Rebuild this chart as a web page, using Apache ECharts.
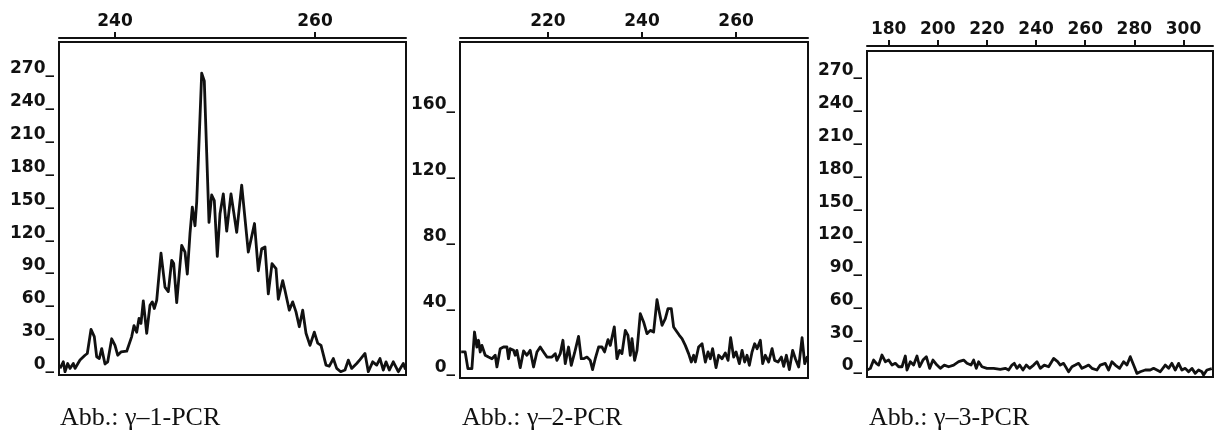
<!DOCTYPE html>
<html>
<head>
<meta charset="utf-8">
<script src="https://cdn.jsdelivr.net/npm/echarts@6/dist/echarts.min.js"></script>
<style>
  html, body { margin: 0; padding: 0; background: #fff; }
  #chart { width: 1229px; height: 437px; }
</style>
</head>
<body>
<div id="chart"></div>
<script>
// ---------------- D A T A ---------------- //
// [fragment size, signal]

const pcr1 = [
  [234.5, 4], [234.83, 10], [235.0, 1], [235.27, 8.5], [235.5, 4], [235.83, 8.5], [236.0, 4],
  [236.5, 11.6], [237.0, 16], [237.23, 17.6], [237.6, 39.5], [237.93, 33], [238.17, 14.6],
  [238.43, 13], [238.67, 22], [239.0, 8], [239.27, 10], [239.67, 31], [240.0, 25], [240.27, 16],
  [240.6, 19], [241.17, 19.7], [241.67, 33], [241.9, 43], [242.17, 37], [242.4, 49.5], [242.6, 45],
  [242.83, 65.5], [243.17, 36], [243.5, 61.6], [243.73, 64.6], [243.93, 58.6], [244.17, 66],
  [244.6, 109], [245.0, 78], [245.33, 74], [245.67, 102.5], [245.87, 99.5], [246.17, 64],
  [246.67, 116], [247.0, 110], [247.23, 90], [247.5, 127], [247.73, 151], [248.0, 134],
  [248.17, 155.6], [248.67, 273], [248.93, 266], [249.17, 200], [249.4, 137], [249.67, 162],
  [249.93, 157], [250.23, 106], [250.5, 145], [250.83, 163], [251.17, 129], [251.6, 163],
  [252.17, 128], [252.67, 171], [253.33, 110], [253.95, 136], [254.33, 93], [254.67, 113],
  [255.0, 114.6], [255.33, 72], [255.7, 99.5], [256.1, 95], [256.33, 67], [256.77, 84], [257.0, 75],
  [257.43, 57], [257.77, 64.6], [258.1, 55.5], [258.43, 42], [258.77, 57], [259.1, 36], [259.5, 25],
  [259.93, 37], [260.27, 27], [260.6, 25], [261.1, 7], [261.43, 6], [261.83, 13], [262.17, 4],
  [262.57, 1], [263.0, 2.5], [263.33, 11.6], [263.67, 4], [264.17, 8.5], [264.5, 12], [265.0, 17.6],
  [265.33, 1], [265.77, 10], [266.17, 7], [266.5, 13], [266.83, 2.5], [267.1, 10], [267.43, 2.5],
  [267.83, 10], [268.33, 1], [268.83, 8.5], [269.05, 3]
]

const pcr2 = [
  [201.55, 14.6], [202.4, 14.6], [202.98, 4.5], [203.83, 4.5], [204.38, 26.7], [204.89, 17.6],
  [205.23, 21.7], [205.6, 14.6], [205.96, 18.6], [206.66, 12.6], [207.36, 11.5], [208.09, 10.5],
  [208.79, 12.6], [209.15, 5.5], [209.85, 16.6], [210.55, 17.6], [211.28, 17.6], [211.62, 10.5],
  [211.98, 16.6], [212.68, 15.6], [213.04, 12.6], [213.4, 15.6], [214.11, 5.1], [214.81, 15.2],
  [215.53, 12.6], [216.23, 15.6], [216.94, 5.5], [217.66, 14.6], [218.36, 17.6], [219.06, 14.6],
  [219.79, 11.5], [220.85, 11.5], [221.55, 13.6], [221.91, 9.5], [222.62, 13.6], [223.19, 21.7],
  [223.68, 7.5], [224.38, 17.6], [224.96, 6.5], [225.66, 14.0], [226.51, 24.1], [227.09, 10.5],
  [227.57, 10.5], [228.3, 11.5], [229.0, 9.5], [229.49, 3.9], [230.06, 10.5], [230.77, 17.6],
  [231.49, 17.6], [232.04, 14.6], [232.77, 22.1], [233.26, 18.6], [234.11, 29.8], [234.68, 10.5],
  [235.23, 15.6], [235.74, 13.6], [236.45, 27.7], [237.02, 24.7], [237.51, 12.6], [237.87, 22.7],
  [238.43, 9.5], [238.94, 15.6], [239.64, 37.8], [240.34, 32.8], [241.06, 25.7], [241.77, 27.7],
  [242.47, 26.7], [243.19, 46.3], [243.68, 38.9], [244.26, 30.8], [244.96, 34.8], [245.53, 40.9],
  [246.23, 40.9], [246.72, 29.8], [247.45, 26.7], [247.94, 24.7], [248.51, 22.7], [249.21, 18.6],
  [249.91, 13.6], [250.49, 8.5], [250.98, 12.6], [251.34, 8.5], [252.04, 17.6], [252.77, 19.6],
  [253.47, 8.5], [254.04, 14.6], [254.53, 10.5], [255.02, 16.6], [255.74, 5.1], [256.3, 12.6],
  [257.02, 10.5], [257.72, 14.0], [258.3, 9.5], [258.85, 23.3], [259.49, 11.5], [260.0, 14.6],
  [260.7, 7.5], [261.28, 15.6], [261.83, 8.5], [262.34, 12.6], [262.83, 6.5], [263.4, 14.6],
  [263.96, 19.6], [264.47, 16.6], [265.17, 21.7], [265.66, 7.5], [266.23, 12.6], [266.94, 8.5],
  [267.66, 16.6], [268.21, 9.5], [268.94, 8.5], [269.64, 11.5], [270.13, 5.9], [270.7, 12.6],
  [271.34, 3.9], [272.04, 15.6], [272.62, 10.5], [273.32, 5.5], [274.04, 23.3], [274.6, 7.5],
  [275.2, 12]
]

const pcr3 = [
  [171.3, 3.7], [172.56, 5.2], [173.9, 12.8], [175.0, 9.8], [175.94, 8.2], [177.3, 17.4],
  [178.66, 11.3], [180.0, 12.8], [181.37, 8.2], [182.73, 9.8], [184.08, 6.7], [185.44, 6.7],
  [186.8, 16.5], [187.47, 3.7], [188.83, 11.3], [190.18, 8.2], [191.54, 16.5], [192.63, 6.7],
  [193.98, 12.8], [195.34, 15.9], [196.7, 5.2], [198.05, 12.8], [199.68, 8.2], [201.03, 5.2],
  [202.66, 8.2], [204.42, 6.7], [206.46, 8.2], [208.49, 11.3], [210.53, 12.8], [211.88, 9.8],
  [213.51, 8.2], [214.59, 12.8], [215.68, 5.2], [216.63, 11.3], [217.99, 6.7], [220.02, 5.2],
  [222.73, 5.2], [225.44, 4.3], [227.48, 5.2], [228.83, 3.7], [230.19, 8.2], [231.14, 9.8],
  [232.22, 5.2], [233.31, 8.2], [234.67, 3.7], [236.02, 8.2], [237.38, 5.2], [239.0, 8.2],
  [240.36, 11.3], [241.72, 5.2], [243.34, 8.2], [245.11, 6.7], [247.14, 14.3], [248.77, 11.3],
  [249.85, 8.2], [251.21, 9.8], [253.24, 2.1], [254.6, 6.7], [255.96, 8.2], [257.31, 9.8],
  [258.67, 5.2], [260.02, 6.7], [261.38, 8.2], [262.74, 5.2], [264.77, 3.7], [266.13, 8.2],
  [268.16, 9.8], [269.52, 3.7], [270.87, 11.3], [272.23, 8.2], [273.99, 5.2], [275.62, 11.3],
  [276.98, 8.2], [278.33, 15.9], [279.69, 8.2], [281.05, 0.6], [282.4, 2.1], [284.43, 3.7],
  [286.47, 3.7], [287.82, 5.2], [289.18, 3.7], [290.54, 2.1], [292.57, 8.2], [293.93, 5.2],
  [295.28, 9.8], [296.64, 3.7], [298.0, 9.8], [299.35, 3.7], [300.71, 5.2], [302.06, 2.1],
  [303.42, 5.2], [304.78, 0.6], [306.13, 3.7], [307.49, 2.1], [308.17, -0.9], [309.52, 3.7],
  [311.5, 5]
]

const xTicks1 = [240, 260]
const xTicks2 = [220, 240, 260]
const xTicks3 = [180, 200, 220, 240, 260, 280, 300]

const yTicks1 = [0, 30, 60, 90, 120, 150, 180, 210, 240, 270]
const yTicks2 = [0, 40, 80, 120, 160]
const yTicks3 = [0, 30, 60, 90, 120, 150, 180, 210, 240, 270]

const captions = ['Abb.: γ–1-PCR', 'Abb.: γ–2-PCR', 'Abb.: γ–3-PCR']

// -------------- L A Y O U T -------------- //

const panels = [
  { data: pcr1, xTicks: xTicks1, yTicks: yTicks1, left: 59, top: 42, width: 347, height: 333,
    xMin: 234.4, xMax: 269.1, yMin: -2, yMax: 301.4, lineGap: 4, capLeft: 60 },
  { data: pcr2, xTicks: xTicks2, yTicks: yTicks2, left: 460, top: 42, width: 348, height: 336,
    xMin: 201.3, xMax: 275.3, yMin: -1.2, yMax: 202.7, lineGap: 4, capLeft: 462 },
  { data: pcr3, xTicks: xTicks3, yTicks: yTicks3, left: 867, top: 51, width: 346, height: 326,
    xMin: 171.2, xMax: 312, yMin: -2.7, yMax: 295.6, lineGap: 5, capLeft: 869 }
]

const INK = '#111111'
const labelFont = { color: INK, fontFamily: 'DejaVu Sans', fontSize: 17, fontWeight: 'bold' }

// -------------- O P T I O N -------------- //

const option = {
  backgroundColor: '#fff',
  animation: false,
  grid: panels.map((p) => ({
    left: p.left,
    top: p.top,
    width: p.width,
    height: p.height,
    show: true,
    borderColor: INK,
    borderWidth: 2,
    outerBoundsMode: 'none'
  })),
  xAxis: panels.map((p, i) => ({
    type: 'value',
    gridIndex: i,
    position: 'top',
    offset: p.lineGap,
    min: p.xMin,
    max: p.xMax,
    axisLine: { show: true, onZero: false, lineStyle: { color: INK, width: 2 } },
    axisTick: { show: true, inside: false, length: 6, customValues: p.xTicks, lineStyle: { color: INK, width: 2 } },
    axisLabel: { ...labelFont, margin: 8, customValues: p.xTicks, showMinLabel: true, showMaxLabel: true },
    splitLine: { show: false }
  })),
  yAxis: panels.map((p, i) => ({
    type: 'value',
    gridIndex: i,
    min: p.yMin,
    max: p.yMax,
    axisLine: { show: false, onZero: false },
    axisTick: { show: false },
    axisLabel: {
      ...labelFont,
      margin: 5,
      verticalAlign: 'bottom',
      lineHeight: 16,
      customValues: p.yTicks,
      formatter: (v) => v + '_'
    },
    splitLine: { show: false }
  })),
  series: panels.map((p, i) => ({
    type: 'line',
    xAxisIndex: i,
    yAxisIndex: i,
    data: p.data,
    showSymbol: false,
    smooth: false,
    lineStyle: { color: INK, width: 2.8, join: 'round' },
    silent: true
  })),
  graphic: panels.map((p, i) => ({
    type: 'text',
    left: p.capLeft,
    top: 405,
    style: { text: captions[i], font: '26px "Liberation Serif"', fill: INK }
  }))
}

const myChart = echarts.init(document.getElementById('chart'))
myChart.setOption(option)
</script>
</body>
</html>
